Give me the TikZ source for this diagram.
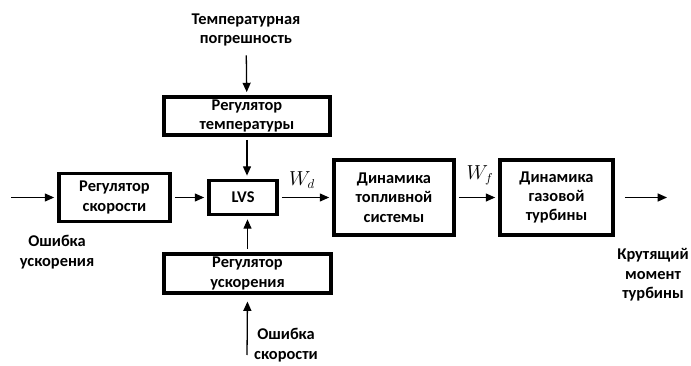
\documentclass[tikz,border=0pt]{standalone}
\usepackage{fontspec}
\setmainfont{Carlito}
\usetikzlibrary{arrows.meta}
\tikzset{
  every picture/.style={font=\bfseries\fontsize{14}{16.5}\selectfont},
  blk/.style={draw, line width=3.2pt, align=center, inner sep=1pt},
  arr/.style={-{Triangle[length=2.8mm, width=2.4mm]}, line width=1.1pt, shorten <=0.9mm, shorten >=0.9mm},
  lbl/.style={align=center},
  wlbl/.style={font=\fontsize{16}{18}\selectfont},
}

\begin{document}
\begin{tikzpicture}[x=0.03cm, y=-0.03cm]
  \useasboundingbox (0,0) rectangle (691,366);
  % blocks
  \node[blk, minimum width=4.98cm, minimum height=1.14cm] (tempreg) at (247,116) {Регулятор\\температуры};
  \node[blk, minimum width=3.33cm, minimum height=1.44cm] (speedreg) at (114.5,197.5) {Регулятор\\скорости};
  \node[blk, minimum width=2.04cm, minimum height=1.02cm] (lvs) at (243,197.5) {LVS};
  \node[blk, minimum width=5.01cm, minimum height=1.17cm] (accreg) at (247.5,273.5) {Регулятор\\ускорения};
  \node[blk, minimum width=3.6cm, minimum height=2.25cm] (fuel) at (394,197.5) {Динамика\\топливной\\системы};
  \node[blk, minimum width=3.39cm, minimum height=2.25cm] (turb) at (556.5,197.5) {Динамика\\газовой\\турбины};
  % labels
  \node[lbl] (temperr) at (246,30) {Температурная\\погрешность};
  \node[lbl] (accerr) at (57,252) {Ошибка\\ускорения};
  \node[lbl] (spderr) at (286,345) {Ошибка\\скорости};
  \node[lbl] (torque) at (653,275) {Крутящий\\момент\\турбины};
  \node[wlbl] (wd) at (302,180) {$W_d$};
  \node[wlbl] (wf) at (480,175) {$W_f$};
  \coordinate (in) at (8,197.5);
  \coordinate (out) at (670,197.5);
  \coordinate (spdin) at (247,358);
  % connections
  \draw[arr] (in) -- (speedreg.west);
  \draw[arr] (speedreg) -- (lvs);
  \draw[arr, shorten <=1.5mm] (temperr) -- (tempreg);
  \draw[arr] (tempreg.south) -- (tempreg.south |- lvs.north);
  \draw[arr] (accreg.north) -- (accreg.north |- lvs.south);
  \draw[arr, shorten >=2mm] (spdin) -- (accreg.south);
  \draw[arr] (lvs) -- (fuel);
  \draw[arr] (fuel) -- (turb);
  \draw[arr, shorten <=3mm] (turb.east) -- (out);
\end{tikzpicture}
\end{document}
